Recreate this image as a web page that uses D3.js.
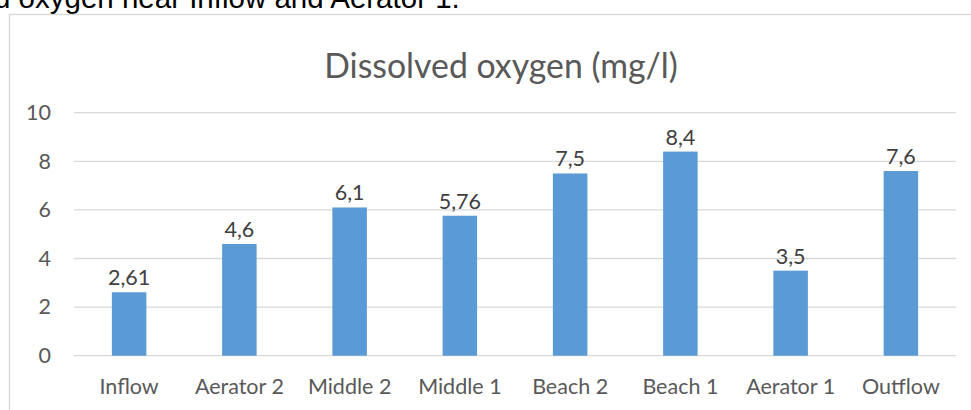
<!DOCTYPE html>
<html>
<head>
<meta charset="utf-8">
<script src="https://cdn.jsdelivr.net/npm/d3@7"></script>
<style>
  html, body { margin: 0; padding: 0; background: #fff; }
  svg { display: block; }
</style>
</head>
<body>
<svg id="chart" width="971" height="410"></svg>
<script>
const categories = ["Inflow", "Aerator 2", "Middle 2", "Middle 1", "Beach 2", "Beach 1", "Aerator 1", "Outflow"];
const values = [2.61, 4.6, 6.1, 5.76, 7.5, 8.4, 3.5, 7.6];
const valueLabels = ["2,61", "4,6", "6,1", "5,76", "7,5", "8,4", "3,5", "7,6"];
const yTicks = [0, 2, 4, 6, 8, 10];
const chartTitle = "Dissolved oxygen (mg/l)";
const captionText = "d oxygen near Inflow and Aerator 1.";

const svg = d3.select("#chart");
const font = "Lato, 'Open Sans', sans-serif";

// caption text cut off at top of picture (as in the reference)
svg.append("text")
  .attr("x", -6).attr("y", 7.5)
  .attr("font-family", "'Liberation Sans', Arial, sans-serif")
  .attr("font-size", 29.5)
  .attr("fill", "#000")
  .text(captionText);

// chart border
svg.append("rect")
  .attr("x", 9.5).attr("y", 14.5)
  .attr("width", 1000).attr("height", 500)
  .attr("fill", "#fff")
  .attr("stroke", "#D9D9D9")
  .attr("stroke-width", 1.3);

const x = d3.scaleBand()
  .domain(categories)
  .range([74, 956])
  .paddingInner(0.687)
  .paddingOuter(0.687 / 2);

const y = d3.scaleLinear().domain([0, 10]).range([355.7, 112.7]);

// title
svg.append("text")
  .attr("x", 501).attr("y", 77.5)
  .attr("text-anchor", "middle")
  .attr("font-family", font)
  .attr("font-size", 33.8)
  .attr("fill", "#595959")
  .text(chartTitle);

// y axis labels
const yAxis = d3.axisLeft(y).tickValues(yTicks).tickSize(0).tickPadding(0).tickFormat(d3.format("d"));
const gy = svg.append("g").attr("transform", "translate(51,0)").call(yAxis);
gy.select(".domain").remove();
gy.selectAll("text")
  .attr("font-family", font)
  .attr("font-size", 21.5)
  .attr("fill", "#595959");

// gridlines
svg.append("g")
  .selectAll("line")
  .data(yTicks)
  .join("line")
  .attr("x1", 74).attr("x2", 956)
  .attr("y1", d => y(d)).attr("y2", d => y(d))
  .attr("stroke", "#D9D9D9")
  .attr("stroke-width", 1.3);

// bars
svg.append("g")
  .selectAll("rect")
  .data(values)
  .join("rect")
  .attr("x", (d, i) => x(categories[i]))
  .attr("width", x.bandwidth())
  .attr("y", d => y(d))
  .attr("height", d => y(0) - y(d))
  .attr("fill", "#5B9BD5");

// value labels
svg.append("g")
  .selectAll("text")
  .data(values)
  .join("text")
  .attr("x", (d, i) => x(categories[i]) + x.bandwidth() / 2)
  .attr("y", d => y(d) - 7)
  .attr("text-anchor", "middle")
  .attr("font-family", font)
  .attr("font-size", 21.5)
  .attr("fill", "#404040")
  .text((d, i) => valueLabels[i]);

// x axis labels
const xAxis = d3.axisBottom(x).tickSize(0).tickPadding(0);
const gx = svg.append("g").attr("transform", "translate(0,394)").call(xAxis);
gx.select(".domain").remove();
gx.selectAll("text")
  .attr("dy", 0)
  .attr("font-family", font)
  .attr("font-size", 21.5)
  .attr("fill", "#595959");
</script>
</body>
</html>
